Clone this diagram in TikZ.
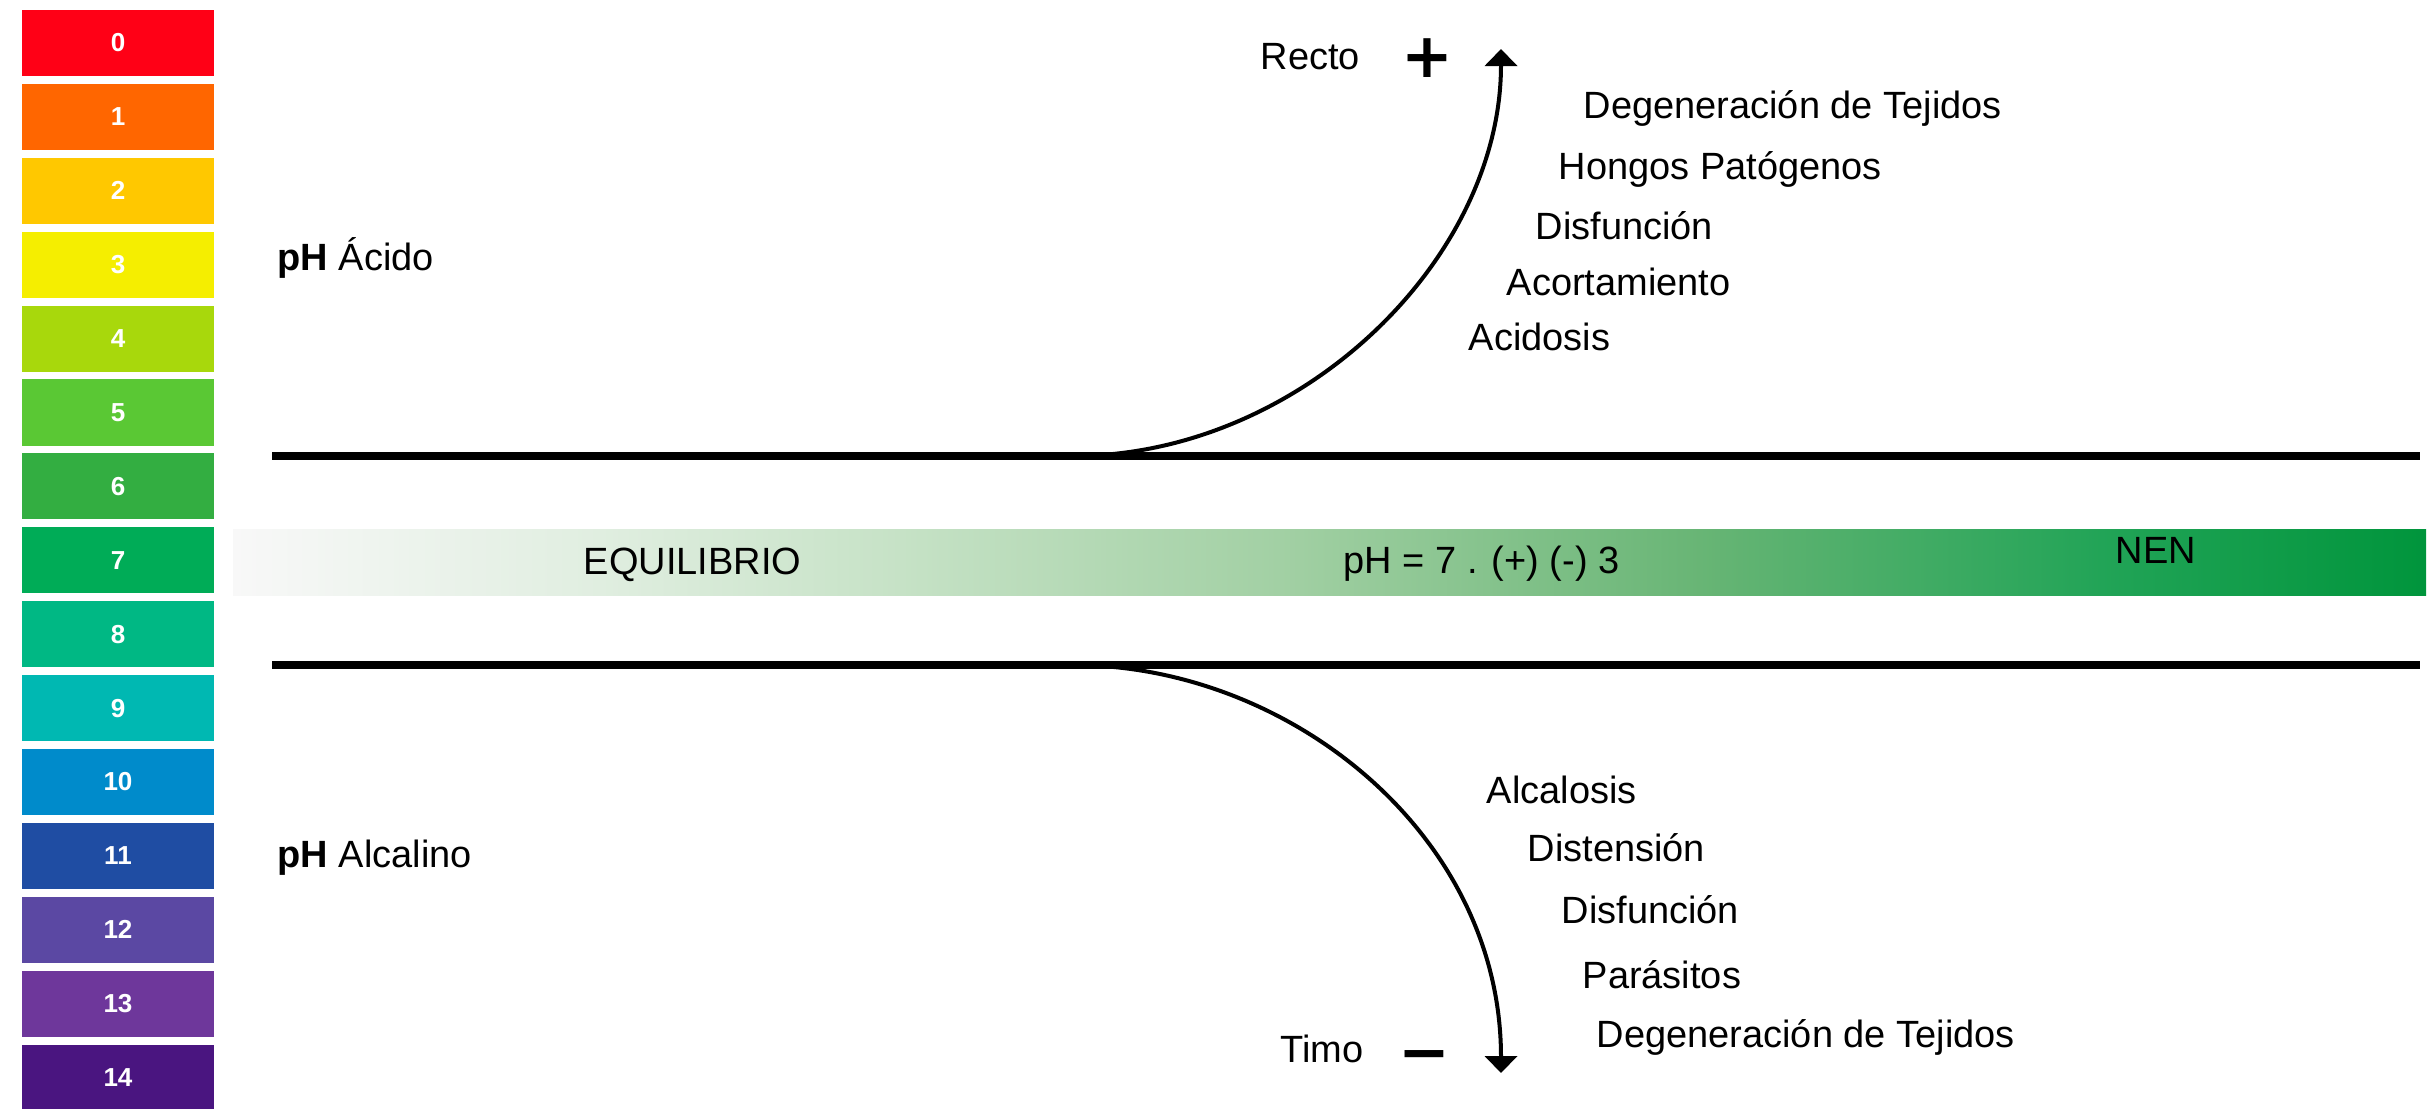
\documentclass[tikz,border=0pt]{standalone}
\usepackage{fontspec}
\setmainfont{Liberation Sans}
\newfontfamily\signfont{DejaVu Sans}
\usepackage{tikz}
\usetikzlibrary{positioning, arrows.meta}

% pH scale colours
\definecolor{ph0}{HTML}{FF0016}
\definecolor{ph1}{HTML}{FF6600}
\definecolor{ph2}{HTML}{FFC800}
\definecolor{ph3}{HTML}{F5EE00}
\definecolor{ph4}{HTML}{A8D80C}
\definecolor{ph5}{HTML}{5AC834}
\definecolor{ph6}{HTML}{33AE41}
\definecolor{ph7}{HTML}{00AC57}
\definecolor{ph8}{HTML}{00B884}
\definecolor{ph9}{HTML}{00B8B2}
\definecolor{ph10}{HTML}{008BCB}
\definecolor{ph11}{HTML}{1F4DA3}
\definecolor{ph12}{HTML}{5B48A3}
\definecolor{ph13}{HTML}{6E379B}
\definecolor{ph14}{HTML}{4A1580}

% equilibrium bar
\definecolor{barA}{HTML}{F8F8F8}
\definecolor{barB}{HTML}{E0EEE0}
\definecolor{barC}{HTML}{C6E2C6}
\definecolor{barD}{HTML}{A0CFA2}
\definecolor{barE}{HTML}{68B575}
\definecolor{barF}{HTML}{22A457}
\definecolor{barG}{HTML}{00953C}

\begin{document}
\begin{tikzpicture}[
    x=0.01cm, y=-0.01cm,
    >={Triangle[width=0.32cm, length=0.17cm]},
    phbox/.style={rectangle, minimum width=1.92cm, minimum height=0.66cm, inner sep=0pt,
        text=white, font=\fontsize{7.4}{9}\selectfont\bfseries},
    txt/.style={anchor=base west, inner sep=0pt, font=\fontsize{10.8}{13}\selectfont},
    sign/.style={inner sep=0pt, font=\fontsize{17.6}{20}\selectfont\signfont\bfseries},
    border/.style={line width=0.08cm},
    swoop/.style={->, line width=0.04cm}
]
\useasboundingbox (0,0) rectangle (2436,1108);

% Scale 0 - 14
\foreach \n in {0,...,14}
    \node[phbox, fill=ph\n] (ph\n) at (118, {43+73.9*\n}) {\n};

% Equilibrium bar
\foreach \xa/\xb/\ca/\cb in {233/600/barA/barB, 600/900/barB/barC, 900/1300/barC/barD,
        1300/1700/barD/barE, 1700/2100/barE/barF, 2100/2426/barF/barG}
    \shade[left color=\ca, right color=\cb] (\xa,529) rectangle (\xb,595);

\node[txt] (equil) at (583,574) {EQUILIBRIO};
\node[txt] (range) at (1343,573) {pH = 7 . (+) (-) 3};
\node[txt] (nen) at (2115,563) {NEN};

% Borders of the zone
\coordinate (topL) at (272,456);
\coordinate (topR) at (2420,456);
\coordinate (botL) at (272,665);
\coordinate (botR) at (2420,665);
\draw[border] (topL) -- (topR);
\draw[border] (botL) -- (botR);

% Side labels
\node[txt] (acido) at (277,270) {\textbf{pH} Ácido};
\node[txt] (alcalino) at (277,867) {\textbf{pH} Alcalino};

% Acid branch
\coordinate (upstart) at (1073,456);
\coordinate (uptip) at (1501,49);
\draw[swoop] (upstart) .. controls (1300,456) and (1501,260) .. (uptip);
\node[txt] (recto) at (1260,69) {Recto};
\node[sign] (plus) at (1427,58) {+};

\node[txt] (up1) at (1583,118) {Degeneración de Tejidos};
\node[txt] (up2) at (1558,179) {Hongos Patógenos};
\node[txt] (up3) at (1535,239) {Disfunción};
\node[txt] (up4) at (1506,295) {Acortamiento};
\node[txt] (up5) at (1468,350) {Acidosis};

% Alkaline branch
\coordinate (downstart) at (1073,665);
\coordinate (downtip) at (1501,1073);
\draw[swoop] (downstart) .. controls (1290,665) and (1501,835) .. (downtip);
\node[txt] (timo) at (1280,1062) {Timo};
\node[sign] (minus) at (1424,1062) {−};

\node[txt] (dn1) at (1486,803) {Alcalosis};
\node[txt] (dn2) at (1527,861) {Distensión};
\node[txt] (dn3) at (1561,923) {Disfunción};
\node[txt] (dn4) at (1582,988) {Parásitos};
\node[txt] (dn5) at (1596,1047) {Degeneración de Tejidos};

\end{tikzpicture}
\end{document}
